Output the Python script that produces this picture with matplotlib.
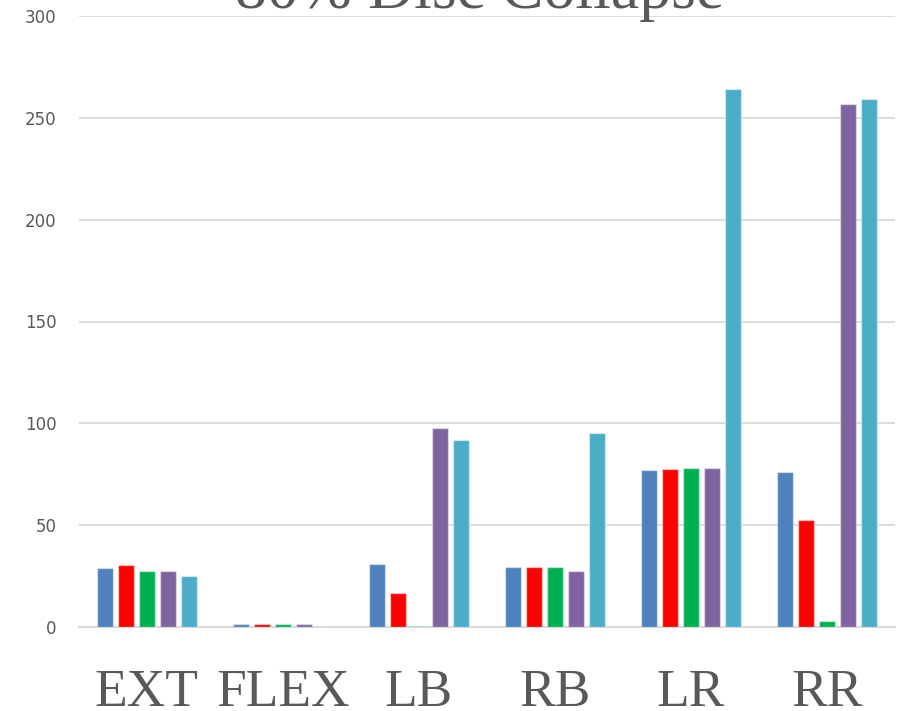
import matplotlib
matplotlib.use("Agg")
import matplotlib.pyplot as plt
import matplotlib.transforms as mtransforms
import numpy as np

categories = ["EXT", "FLEX", "LB", "RB", "LR", "RR"]
series1 = [29.0, 1.5, 31.0, 29.5, 77.0, 76.0]     # blue
series2 = [30.4, 1.5, 16.7, 29.5, 77.5, 52.3]     # red
series3 = [27.5, 1.5, 0.6, 29.5, 78.0, 2.9]       # green
series4 = [27.5, 1.5, 97.8, 27.5, 78.0, 256.7]    # purple
series5 = [25.0, 0.0, 91.8, 95.2, 264.3, 259.2]   # teal
colors = ["#4F81BD", "#FF0000", "#00B050", "#8064A2", "#4BACC6"]
yticks = [0, 50, 100, 150, 200, 250, 300]
title = "80% Disc Collapse"

fig = plt.figure(figsize=(8.98, 7.11), dpi=100)
ax = fig.add_axes([79/898, 1 - 627/711, (895-79)/898, (627-16)/711])

x = np.arange(len(categories))
slot = 0.154
bw = 0.118
all_series = [series1, series2, series3, series4, series5]
for i, (vals, c) in enumerate(zip(all_series, colors)):
    ax.bar(x + (i - 2) * slot, vals, width=bw, color=c,
           edgecolor=(1, 1, 1, 0.45), linewidth=1.0, zorder=3)

ax.set_xlim(-0.5, len(categories) - 0.5)
ax.set_ylim(0, 300)
ax.set_yticks(yticks)
ax.yaxis.grid(True, color="#D9D9D9", linewidth=1.3, zorder=0)
ax.set_axisbelow(True)
for s in ["top", "right", "left"]:
    ax.spines[s].set_visible(False)
ax.spines["bottom"].set_color("#D9D9D9")
ax.spines["bottom"].set_linewidth(1.5)

ax.tick_params(axis="y", length=0, pad=16, labelsize=12, labelcolor="#595959")
ax.set_xticks(x)
ax.set_xticklabels([])
ax.tick_params(axis="x", length=0)
for lab in ax.get_yticklabels():
    lab.set_family("DejaVu Sans")

trans = mtransforms.blended_transform_factory(ax.transData, fig.transFigure)
for xi, cat in zip(x, categories):
    ax.text(xi, 1 - 706/711, cat, transform=trans, ha="center", va="baseline",
            family="Liberation Serif", fontsize=38.5, color="#595959", clip_on=False)

fig.text(0.534, 1 - 7.5/711, title, ha="center", va="baseline",
         family="Liberation Serif", fontsize=46, color="#595959")

fig.savefig("out.png", dpi=100)
